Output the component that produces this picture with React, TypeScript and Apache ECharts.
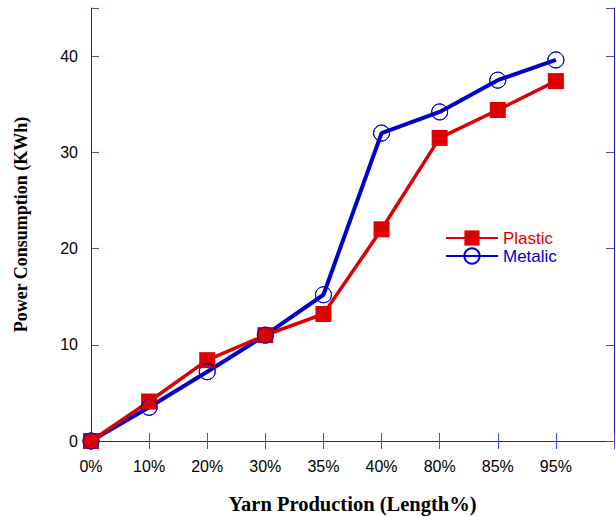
import React, { useEffect, useRef } from "react";
import * as echarts from "echarts";

const categories = ["0%", "10%", "20%", "30%", "35%", "40%", "80%", "85%", "95%", ""];
const plasticValues = [0, 4.1, 8.4, 11.0, 13.2, 22.0, 31.5, 34.4, 37.4];
const metalicValues = [0, 3.5, 7.2, 11.0, 15.2, 32.0, 34.2, 37.5, 39.6];
const yTicks = [0, 10, 20, 30, 40];

const RED = "#dd0000";
const BLUE = "#0000cc";
const FRAME = "#1a1acc";
const TICK = "#4a4ad8";
const SANS = "Liberation Sans, Arial, sans-serif";
const SERIF = "Liberation Serif, Times New Roman, serif";

export default function App() {
  const ref = useRef<HTMLDivElement>(null);
  useEffect(() => {
    if (!ref.current) return;
    const chart = echarts.init(ref.current, null, { renderer: "svg" });
    const axisLineStyle = { show: true, lineStyle: { color: FRAME, width: 1 } };
    const tickStyle = { show: true, inside: true, length: 8, lineStyle: { color: TICK, width: 1 } };
    chart.setOption({
      animation: false,
      backgroundColor: "#ffffff",
      grid: {
        left: 91,
        top: 8,
        right: 2,
        bottom: 76,
        containLabel: false,
        outerBoundsMode: "none",
      },
      legend: {
        orient: "vertical",
        left: 440,
        top: 224,
        itemWidth: 52,
        itemHeight: 19,
        itemGap: 0,
        selectedMode: false,
        textStyle: { fontFamily: SANS, fontSize: 17, lineHeight: 18 },
        data: [
          { name: "Plastic", textStyle: { color: RED } },
          { name: "Metalic", textStyle: { color: BLUE } },
        ],
      },
      xAxis: [
        {
          type: "category",
          data: categories,
          boundaryGap: false,
          position: "bottom",
          axisLine: axisLineStyle,
          axisTick: { ...tickStyle, interval: 0 },
          axisLabel: {
            interval: 0,
            color: "#000",
            fontFamily: SANS,
            fontSize: 16,
            margin: 17,
          },
          splitLine: { show: false },
          name: "Yarn Production (Length%)",
          nameLocation: "middle",
          nameGap: 52,
          nameTextStyle: {
            color: "#000",
            fontFamily: SERIF,
            fontWeight: "bold",
            fontSize: 20.5,
            verticalAlign: "top",
          },
        },
        {
          type: "category",
          data: categories,
          boundaryGap: false,
          position: "top",
          axisLine: axisLineStyle,
          axisTick: { ...tickStyle, interval: 0 },
          axisLabel: { show: false },
          splitLine: { show: false },
        },
      ],
      yAxis: [
        {
          type: "value",
          min: 0,
          max: 45,
          interval: 10,
          position: "left",
          axisLine: axisLineStyle,
          axisTick: tickStyle,
          axisLabel: {
            color: "#000",
            fontFamily: SANS,
            fontSize: 16,
            margin: 13,
            formatter: (v: number) => (yTicks.indexOf(v) >= 0 ? String(v) : ""),
          },
          splitLine: { show: false },
          name: "Power Consumption (KWh)",
          nameLocation: "middle",
          nameGap: 70,
          nameRotate: 90,
          nameTextStyle: {
            color: "#000",
            fontFamily: SERIF,
            fontWeight: "bold",
            fontSize: 18,
            verticalAlign: "middle",
          },
        },
        {
          type: "value",
          min: 0,
          max: 45,
          interval: 10,
          position: "right",
          axisLine: axisLineStyle,
          axisTick: tickStyle,
          axisLabel: { show: false },
          splitLine: { show: false },
        },
      ],
      series: [
        {
          name: "Metalic",
          type: "line",
          data: metalicValues,
          z: 1,
          symbol: "circle",
          symbolSize: 16,
          showAllSymbol: true,
          lineStyle: { color: BLUE, width: 4 },
          itemStyle: { color: "rgba(0,0,0,0)", borderColor: BLUE, borderWidth: 1 },
        },
        {
          name: "Plastic",
          type: "line",
          data: plasticValues,
          z: 2,
          symbol: "rect",
          symbolSize: 16,
          showAllSymbol: true,
          lineStyle: { color: RED, width: 3.5 },
          itemStyle: { color: RED },
        },
        {
          name: "Metalic",
          type: "line",
          data: metalicValues,
          z: 3,
          symbol: "circle",
          symbolSize: 16,
          showAllSymbol: true,
          lineStyle: { width: 0, opacity: 0 },
          itemStyle: { color: "rgba(0,0,0,0)", borderColor: BLUE, borderWidth: 1 },
        },
      ],
    });
    return () => chart.dispose();
  }, []);
  return (
    <div
      ref={ref}
      style={{ position: "fixed", left: 0, top: 0, width: 616, height: 517, background: "#fff" }}
    />
  );
}
